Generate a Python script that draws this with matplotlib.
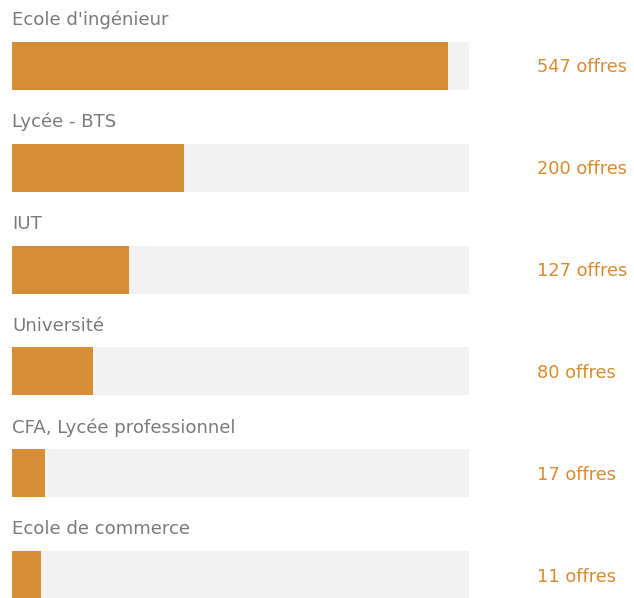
import matplotlib.pyplot as plt
from matplotlib.transforms import blended_transform_factory

# formations and number of offers
categories = ["Ecole d'ingénieur", "Lycée - BTS", "IUT", "Université",
              "CFA, Lycée professionnel", "Ecole de commerce"]
offers = [547, 200, 127, 80, 17, 11]
value_labels = [f"{v} offres" for v in offers]

bar_color = '#D68F36'
track_color = '#F2F2F2'
label_color = '#7A7A7A'
value_color = '#D98A2E'

x0 = -27.1      # bars have a small minimum width
x_max = 575.0

fig = plt.figure(figsize=(6.34, 5.98), dpi=100)
ax = fig.add_axes([12 / 634, 0, 457 / 634, 1])
ax.set_xlim(x0, x_max)
ax.set_ylim(5.226, -0.648)
ax.axis('off')

rows = range(len(categories))
ax.barh(rows, [x_max - x0] * len(offers), left=x0, height=0.4715,
        color=track_color, linewidth=0)
ax.barh(rows, [v - x0 for v in offers], left=x0, height=0.4715,
        color=bar_color, linewidth=0)

trans = blended_transform_factory(fig.transFigure, ax.transData)
for i, (cat, lab) in enumerate(zip(categories, value_labels)):
    ax.text(12 / 634, i - 0.45, cat, transform=trans, ha='left', va='center',
            fontsize=13.1, color=label_color, family='DejaVu Sans')
    ax.text(537 / 634, i + 0.015, lab, transform=trans, ha='left', va='center',
            fontsize=12.8, color=value_color, family='DejaVu Sans')

fig.savefig('out.png', dpi=100)
